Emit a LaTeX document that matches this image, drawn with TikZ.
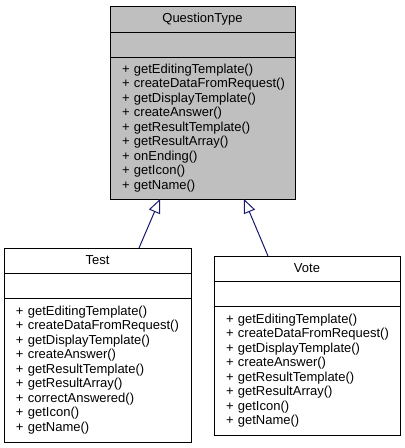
\documentclass[tikz,border=0pt]{standalone}
\usepackage{fontspec}
\setmainfont{Liberation Sans}
\usetikzlibrary{arrows.meta,positioning}
\definecolor{classgray}{HTML}{BFBFBF}
\definecolor{edgeblue}{HTML}{191970}
\hyphenpenalty=10000
\exhyphenpenalty=10000

\begin{document}
\begin{tikzpicture}
  [
    x = 1pt, y = -1pt,
    every node/.style = {font=\fontsize{13}{14.47}\selectfont, line width=1pt, inner xsep=12pt, inner ysep=0pt, outer sep=0pt},
    part/.style = {draw=black, fill=white},
    members/.style = {part, align=left},
    inherit/.style = {draw=edgeblue, line width=1pt, -{Triangle[open, length=14pt, width=12pt]}},
  ]
  \useasboundingbox (0,0) rectangle (405,448);

  \node[part, fill=classgray, anchor=north west, minimum width=185pt, minimum height=26pt] (qttitle) at (110,6) {QuestionType};
  \node[part, fill=classgray, below=0pt of qttitle, minimum width=185pt, minimum height=25pt] (qtattr) {};
  \node[members, fill=classgray, below=0pt of qtattr, text width=161pt, minimum height=142pt] (qtmethods) {%
    +~getEditingTemplate()\\
    +~createDataFromRequest()\\
    +~getDisplayTemplate()\\
    +~createAnswer()\\
    +~getResultTemplate()\\
    +~getResultArray()\\
    +~onEnding()\\
    +~getIcon()\\
    +~getName()};

  \node[part, anchor=north west, minimum width=187pt, minimum height=25pt] (testtitle) at (4,248) {Test};
  \node[part, below=0pt of testtitle, minimum width=187pt, minimum height=25pt] (testattr) {};
  \node[members, below=0pt of testattr, text width=163pt, minimum height=144pt] (testmethods) {%
    +~getEditingTemplate()\\
    +~createDataFromRequest()\\
    +~getDisplayTemplate()\\
    +~createAnswer()\\
    +~getResultTemplate()\\
    +~getResultArray()\\
    +~correctAnswered()\\
    +~getIcon()\\
    +~getName()};

  \node[part, anchor=north west, minimum width=186pt, minimum height=25pt] (votetitle) at (214,256) {Vote};
  \node[part, below=0pt of votetitle, minimum width=186pt, minimum height=25pt] (voteattr) {};
  \node[members, below=0pt of voteattr, text width=162pt, minimum height=129pt] (votemethods) {%
    +~getEditingTemplate()\\
    +~createDataFromRequest()\\
    +~getDisplayTemplate()\\
    +~createAnswer()\\
    +~getResultTemplate()\\
    +~getResultArray()\\
    +~getIcon()\\
    +~getName()};

  \draw[inherit] ([xshift=41.5pt]testtitle.north) -- ([xshift=-42.5pt]qtmethods.south);
  \draw[inherit] ([xshift=-39pt]votetitle.north) -- ([xshift=41.5pt]qtmethods.south);

\end{tikzpicture}
\end{document}
